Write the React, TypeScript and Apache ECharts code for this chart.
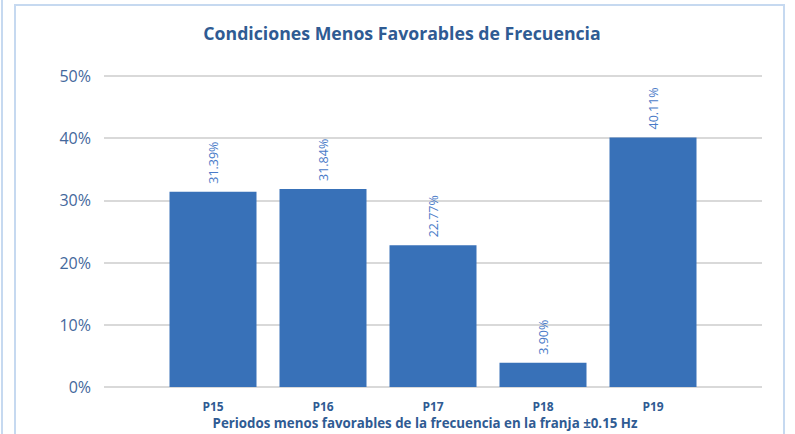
import React, { useEffect, useRef } from "react";
import * as echarts from "echarts";

const categories = ["P15", "P16", "P17", "P18", "P19"];
const values = [31.39, 31.84, 22.77, 3.9, 40.11];
const yTicks = [0, 10, 20, 30, 40, 50];
const titleText = "Condiciones Menos Favorables de Frecuencia";
const xAxisTitle = "Periodos menos favorables de la frecuencia en la franja ±0.15 Hz";

const FONT = "'Open Sans', sans-serif";

export default function App() {
  const ref = useRef<HTMLDivElement>(null);
  useEffect(() => {
    if (!ref.current) return;
    const chart = echarts.init(ref.current, undefined, { renderer: "svg" });
    const yMin = yTicks[0];
    const yMax = yTicks[yTicks.length - 1];
    const interval = yTicks[1] - yTicks[0];
    chart.setOption({
      animation: false,
      backgroundColor: "#ffffff",
      textStyle: { fontFamily: FONT },
      graphic: [
        { type: "line", shape: { x1: 2, y1: 0, x2: 2, y2: 434 }, style: { stroke: "#c6d9f0", lineWidth: 2 } },
        { type: "rect", shape: { x: 15, y: 5, width: 769, height: 445 }, style: { fill: "none", stroke: "#c6d9f0", lineWidth: 2 } },
        {
          type: "text",
          x: 402,
          y: 33,
          style: { text: titleText, fill: "#2f5b93", font: `bold 17.7px ${FONT}`, align: "center", verticalAlign: "middle" },
        },
        {
          type: "text",
          x: 425,
          y: 423,
          style: { text: xAxisTitle, fill: "#2f5b93", font: `bold 13.3px ${FONT}`, align: "center", verticalAlign: "middle" },
        },
      ],
      grid: [
        { left: 104, right: 33, top: 76, bottom: 47 },
        { left: 158, right: 87, top: 76, bottom: 47 },
      ],
      xAxis: [
        { type: "value", gridIndex: 0, show: false, min: 0, max: 1 },
        {
          type: "category",
          gridIndex: 1,
          data: categories,
          axisLine: { show: false },
          axisTick: { show: false },
          axisLabel: { color: "#2f5b93", fontWeight: "bold", fontSize: 12, margin: 13, fontFamily: FONT },
        },
      ],
      yAxis: [
        {
          type: "value",
          gridIndex: 0,
          min: yMin,
          max: yMax,
          interval,
          axisLine: { show: false },
          axisTick: { show: false },
          splitLine: { lineStyle: { color: "#d9d9d9", width: 2 } },
          axisLabel: { color: "#44689c", fontSize: 16, margin: 13, formatter: (v: number) => `${v}%`, fontFamily: FONT },
        },
        { type: "value", gridIndex: 1, min: yMin, max: yMax, interval, show: false },
      ],
      series: [
        {
          type: "bar",
          xAxisIndex: 1,
          yAxisIndex: 1,
          data: values,
          barWidth: 87,
          itemStyle: { color: "#3871b8" },
          label: {
            show: true,
            position: "top",
            rotate: 90,
            align: "left",
            verticalAlign: "middle",
            distance: 8,
            color: "#4a7bc8",
            fontSize: 12.5,
            fontFamily: FONT,
            formatter: (p: any) => `${p.value.toFixed(2)}%`,
          },
        },
      ],
    });
    return () => chart.dispose();
  }, []);
  return <div ref={ref} style={{ width: 795, height: 434, position: "absolute", left: 0, top: 0 }} />;
}
